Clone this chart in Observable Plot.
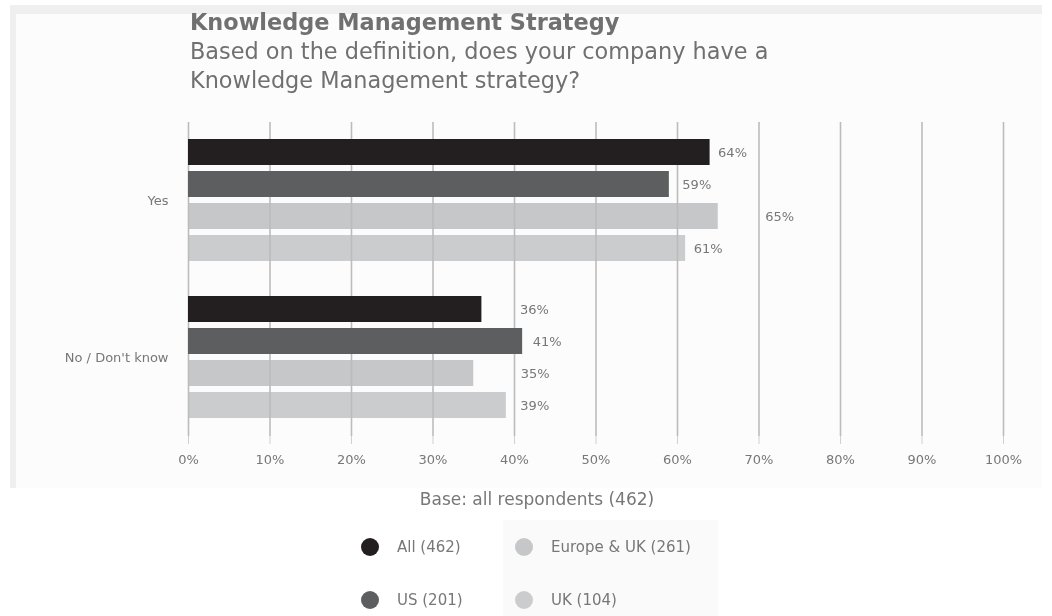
<!DOCTYPE html>
<html>
<head>
<meta charset="utf-8">
<script src="https://cdn.jsdelivr.net/npm/d3@7"></script>
<script src="https://cdn.jsdelivr.net/npm/@observablehq/plot@0.6"></script>
<style>
  html, body { margin: 0; padding: 0; background: #ffffff; }
  body { width: 1052px; height: 616px; position: relative; overflow: hidden; font-family: "DejaVu Sans", sans-serif; }
  #panel { position: absolute; left: 10px; top: 5px; width: 1026px; height: 474px; background: #fcfcfc; border-top: 9px solid #efefef; border-left: 6px solid #efefef; }
  #title { position: absolute; left: 190px; top: 8px; color: #707070; font-size: 22.4px; line-height: 29px; white-space: nowrap; }
  #title .t1 { font-weight: bold; }
  #chart { position: absolute; left: 0; top: 0; }
  #xlabel { position: absolute; left: 0; width: 1074px; top: 489px; text-align: center; color: #777; font-size: 17px; }
  #legendbox { position: absolute; left: 503px; top: 520px; width: 215px; height: 96px; background: #fafafa; }
  .lg { position: absolute; display: flex; align-items: center; color: #777; font-size: 15px; white-space: nowrap; }
  .lg .dot { width: 18px; height: 18px; border-radius: 50%; margin-right: 18px; }
</style>
</head>
<body>
<div id="panel"></div>
<div id="title"></div>
<div id="chart"></div>
<div id="xlabel"></div>
<div id="legendbox"></div>
<div id="legend"></div>
<script>
// ---- data ----
const titleLines = [
  "Knowledge Management Strategy",
  "Based on the definition, does your company have a",
  "Knowledge Management strategy?"
];
const categories = ["Yes", "No / Don't know"];
const series = ["All (462)", "US (201)", "Europe & UK (261)", "UK (104)"];
const yesValues = [64, 59, 65, 61];
const noValues = [36, 41, 35, 39];
const xTicks = [0, 10, 20, 30, 40, 50, 60, 70, 80, 90, 100];
const seriesColors = ["#231f20", "#5d5e60", "#c6c7c9", "#cbcccd"];
const axisLabel = "Base: all respondents (462)";

// ---- build table ----
const valuesByCategory = [yesValues, noValues];
const data = categories.flatMap((c, ci) =>
  series.map((s, si) => ({category: c, series: s, value: valuesByCategory[ci][si]}))
);

// label offsets (styling quirk of the original)
function labelShift(d) {
  if (d.category === categories[0]) {
    if (d.series === series[2]) return 47;
    if (d.series === series[1]) return 13;
    return 8;
  }
  if (d.series === series[1]) return 10;
  if (d.series === series[3]) return 14;
  if (d.series === series[0]) return 38;
  return 47;
}
const shifts = [8, 10, 13, 14, 38, 47];

// ---- title ----
const titleEl = document.getElementById("title");
titleLines.forEach((t, i) => {
  const div = document.createElement("div");
  div.className = "t" + (i + 1);
  div.textContent = t;
  titleEl.appendChild(div);
});

// ---- chart ----
const chart = Plot.plot({
  width: 1052,
  height: 520,
  marginLeft: 188,
  marginRight: 49,
  marginTop: 121,
  marginBottom: 84,
  style: {background: "transparent", fontFamily: "DejaVu Sans, sans-serif", fontSize: "13px", color: "#777"},
  x: {domain: [0, 100]},
  y: {domain: series, axis: null, paddingInner: 0.18, paddingOuter: 0.5},
  fy: {domain: categories, padding: 0, label: null},
  color: {domain: series, range: seriesColors},
  marks: [
    Plot.barX(data, {x: "value", y: "series", fy: "category", fill: "series"}),
    Plot.gridX(xTicks, {stroke: "#bcbcbc", strokeWidth: 1.6, strokeOpacity: 1, mixBlendMode: "darken"}),
    Plot.axisX({ticks: xTicks, tickFormat: d => d + "%", tickSize: 8, stroke: "#d0d0d0", tickPadding: 10, fill: "#777", label: null}),
    Plot.axisFy({anchor: "left", tickSize: 0, tickPadding: 20, label: null, fill: "#777"}),
    ...shifts.map(s => Plot.text(data, {
      filter: d => labelShift(d) === s,
      x: "value", y: "series", fy: "category",
      text: d => d.value + "%",
      dx: s, textAnchor: "start", fill: "#777", fontSize: 13
    }))
  ]
});
document.getElementById("chart").appendChild(chart);

// ---- axis label ----
document.getElementById("xlabel").textContent = axisLabel;

// ---- legend (column-major: col1 = series 0,1 ; col2 = series 2,3) ----
const legendEl = document.getElementById("legend");
const colX = [361, 515];
const rowY = [538, 591];
series.forEach((s, i) => {
  const col = Math.floor(i / 2), row = i % 2;
  const item = document.createElement("div");
  item.className = "lg";
  item.style.left = colX[col] + "px";
  item.style.top = rowY[row] + "px";
  const dot = document.createElement("span");
  dot.className = "dot";
  dot.style.background = seriesColors[i];
  const lab = document.createElement("span");
  lab.textContent = s;
  item.appendChild(dot);
  item.appendChild(lab);
  legendEl.appendChild(item);
});
</script>
</body>
</html>
